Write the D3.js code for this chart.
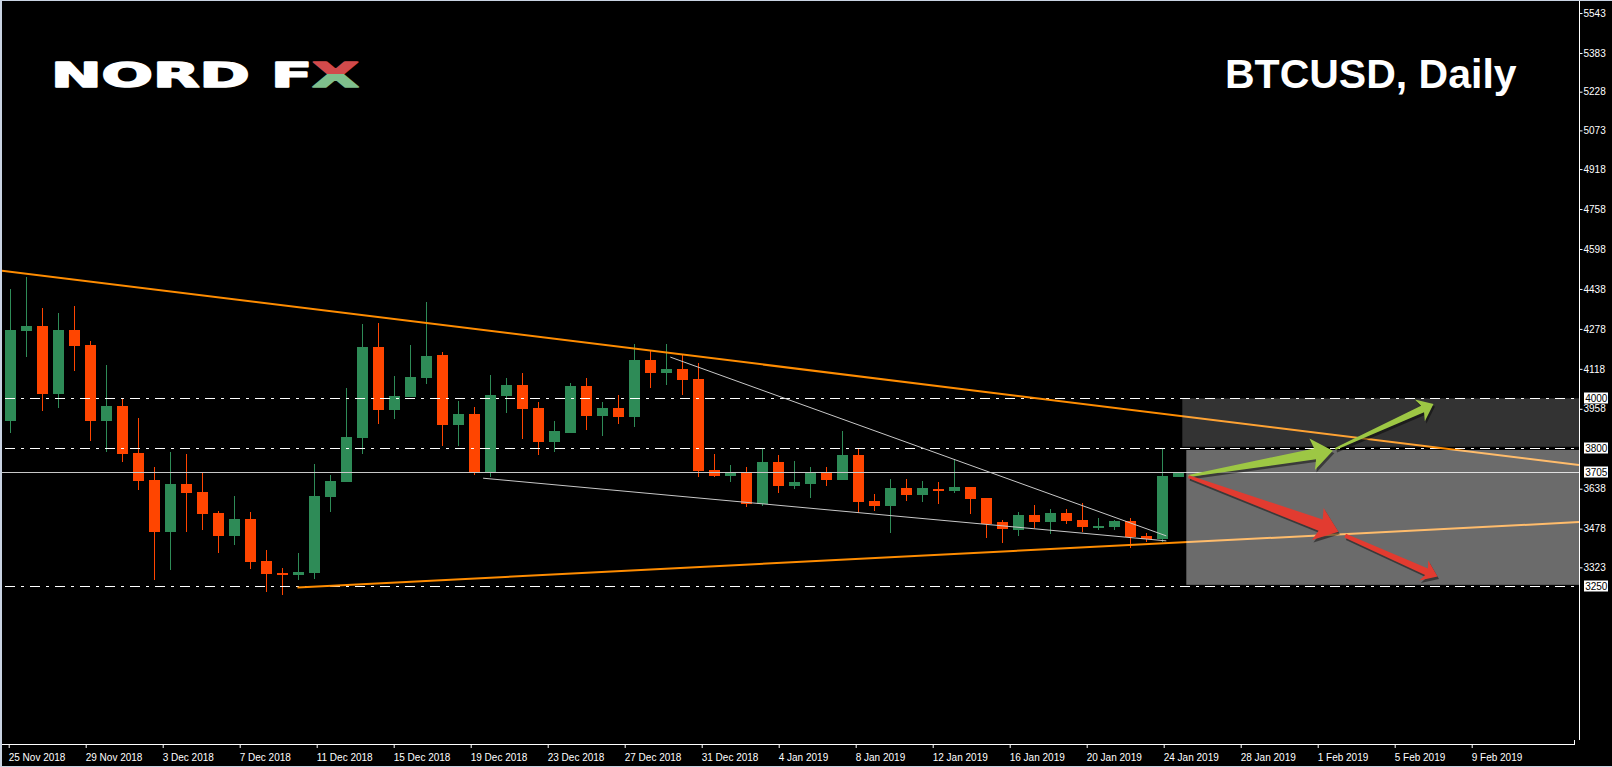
<!DOCTYPE html>
<html><head><meta charset="utf-8">
<script src="https://cdn.jsdelivr.net/npm/d3@7"></script>
<style>html,body{margin:0;padding:0;background:#000;overflow:hidden}</style>
</head><body>
<svg id="c" width="1612" height="767"></svg>
<script>
// ---------- data ----------
const openP  = [3909,4271,4290,4017,4274,4214,3909,3969,3781,3673,3465,3657,3625,3541,3449,3517,3348,3300,3292,3300,3605,3665,3841,4206,3953,4005,4081,4173,3893,3937,3701,4009,4053,3961,3825,3861,4049,3929,3961,3925,4153,4101,4117,4077,3713,3689,3701,3577,3745,3649,3657,3705,3673,3773,3589,3569,3641,3613,3637,3629,3645,3601,3505,3473,3533,3505,3541,3513,3485,3485,3509,3449,3437,3685];
const highP  = [4438,4486,4362,4342,4370,4230,4133,3997,3921,3725,3785,3777,3705,3549,3609,3545,3392,3320,3380,3737,3693,4041,4298,4302,4089,4214,4386,4185,3989,3965,4093,4081,4101,3985,3909,4061,4081,3985,4013,4218,4189,4218,4173,4141,3777,3733,3725,3797,3773,3749,3725,3725,3869,3797,3617,3677,3677,3669,3665,3753,3645,3601,3513,3545,3573,3557,3557,3581,3521,3513,3521,3461,3797,3705];
const lowP   = [3862,4167,3949,3961,4109,3829,3785,3745,3633,3272,3312,3465,3473,3380,3412,3316,3224,3212,3272,3276,3545,3665,3777,3897,3917,4005,4057,3809,3809,3693,3685,3941,3837,3773,3785,3861,3873,3849,3897,3885,4041,4053,4013,3685,3685,3665,3565,3569,3621,3637,3601,3649,3673,3541,3549,3461,3589,3585,3577,3621,3537,3441,3421,3449,3481,3457,3497,3465,3473,3473,3401,3425,3425,3685];
const closeP = [4274,4290,4017,4274,4210,3909,3969,3777,3669,3465,3657,3621,3537,3449,3517,3344,3296,3292,3304,3609,3669,3845,4206,3953,4009,4085,4169,3893,3937,3701,4013,4053,3957,3825,3869,4049,3929,3961,3925,4153,4101,4117,4073,3709,3689,3701,3577,3745,3649,3665,3705,3673,3773,3585,3569,3641,3613,3641,3629,3645,3597,3497,3477,3533,3505,3541,3509,3485,3489,3509,3445,3437,3689,3705];

const dateTicks = ["2018-11-25","2018-11-29","2018-12-03","2018-12-07","2018-12-11","2018-12-15","2018-12-19","2018-12-23","2018-12-27","2018-12-31","2019-01-04","2019-01-08","2019-01-12","2019-01-16","2019-01-20","2019-01-24","2019-01-28","2019-02-01","2019-02-05","2019-02-09"];
const priceTicks = [5543,5383,5228,5073,4918,4758,4598,4438,4278,4118,3958,3638,3478,3323];
const boxedLevels = [4000,3800,3705,3250];
const dashedLevels = [4000,3800,3250];
const solidLevels = [3705];

// trend lines as [barIndex, price] anchors
const upperTrend = [[0,4507],[73,3931]];
const lowerTrend = [[18,3242],[73,3422]];
const greyTrendA = [[41.3,4165],[72.3,3449]];
const greyTrendB = [[29.6,3680],[72.3,3429]];

// forecast zones [startIndex, topPrice, bottomPrice]
const zoneUpper = [73.3, 4000, 3806];
const zoneLower = [73.55, 3793, 3253];

// arrows [tail, tip] as [barIndex, price]
const arrowGreen1 = [[73.69,3689],[82.71,3790]];
const arrowGreen2 = [[82.86,3797],[89.0,3977]];
const arrowRed1   = [[73.69,3686],[83.06,3466]];
const arrowRed2   = [[83.48,3450],[89.25,3286]];

// ---------- scales ----------
const W = 1612, H = 767;
const plotRight = 1579, plotBottom = 744;
const svg = d3.select("#c");
const xi = d3.scaleLinear().domain([0,1]).range([9.5,25.5]);
const parse = d3.utcParse("%Y-%m-%d");
const tDates = dateTicks.map(parse);
const xt = d3.scaleUtc().domain([tDates[0], tDates[tDates.length-1]]).range([8.7, 8.7 + 76*19.25]);
const y = d3.scaleLinear().domain([2615.5, 5595.2]).range([plotBottom, 0]);
const crisp = v => Math.round(v) + 0.5;

svg.append("rect").attr("width",W).attr("height",H).attr("fill","#000");

const defs = svg.append("defs");
defs.append("clipPath").attr("id","plot").append("rect")
  .attr("x",2).attr("y",0).attr("width",plotRight-2).attr("height",plotBottom);
const lg = defs.append("linearGradient").attr("id","xgrad")
  .attr("gradientUnits","userSpaceOnUse").attr("x1",0).attr("x2",0).attr("y1",-25).attr("y2",0);
lg.append("stop").attr("offset","0.5").attr("stop-color","#d24a4b");
lg.append("stop").attr("offset","0.5").attr("stop-color","#7fbf8c");

const plot = svg.append("g").attr("clip-path","url(#plot)");

// ---------- candles ----------
const candles = openP.map((o,i)=>({i,o,h:highP[i],l:lowP[i],c:closeP[i]}));
const col = d => d.c >= d.o ? "#2e8b57" : "#ff4500";
plot.append("g").selectAll("line").data(candles).join("line")
  .attr("x1",d=>Math.round(xi(d.i))+0.5).attr("x2",d=>Math.round(xi(d.i))+0.5)
  .attr("y1",d=>Math.round(y(d.h))).attr("y2",d=>Math.round(y(d.l)))
  .attr("stroke",col).attr("stroke-width",1);
plot.append("g").selectAll("rect").data(candles).join("rect")
  .attr("x",d=>Math.round(xi(d.i))-5).attr("width",11)
  .attr("y",d=>Math.round(y(Math.max(d.o,d.c))))
  .attr("height",d=>Math.max(2,Math.round(y(Math.min(d.o,d.c)))-Math.round(y(Math.max(d.o,d.c)))))
  .attr("fill",col);

// ---------- level lines ----------
plot.append("g").selectAll("line").data(solidLevels).join("line")
  .attr("x1",2).attr("x2",plotRight).attr("y1",d=>crisp(y(d))).attr("y2",d=>crisp(y(d)))
  .attr("stroke","#c8c8c8").attr("stroke-width",1);
plot.append("g").selectAll("line").data(dashedLevels).join("line")
  .attr("x1",5).attr("x2",plotRight).attr("y1",d=>crisp(y(d))).attr("y2",d=>crisp(y(d)))
  .attr("stroke","#fff").attr("stroke-width",1.2).attr("stroke-dasharray","10,6,3,6");

// ---------- trend lines ----------
function trend(a, i0, i1){
  const s = (a[1][1]-a[0][1])/(a[1][0]-a[0][0]);
  const p = i => a[0][1] + s*(i-a[0][0]);
  return [[xi(i0),y(p(i0))],[xi(i1),y(p(i1))]];
}
const iRight = xi.invert(plotRight), iLeft = xi.invert(0);
const lineGen = d3.line();
plot.append("path").attr("d",lineGen(trend(upperTrend,iLeft,iRight)))
  .attr("stroke","#ff8c00").attr("stroke-width",2).attr("fill","none");
plot.append("path").attr("d",lineGen(trend(lowerTrend,lowerTrend[0][0],iRight)))
  .attr("stroke","#ff8c00").attr("stroke-width",2).attr("fill","none");
[greyTrendA, greyTrendB].forEach(a=>{
  plot.append("path").attr("d",lineGen(a.map(p=>[xi(p[0]),y(p[1])])))
    .attr("stroke","#c8c8c8").attr("stroke-width",1).attr("fill","none");
});

// ---------- zones (translucent light overlay) ----------
plot.append("rect").attr("x",xi(zoneUpper[0])).attr("width",plotRight-xi(zoneUpper[0]))
  .attr("y",y(zoneUpper[1])).attr("height",y(zoneUpper[2])-y(zoneUpper[1]))
  .attr("fill","#fff").attr("fill-opacity",0.2);
plot.append("rect").attr("x",xi(zoneLower[0])).attr("width",plotRight-xi(zoneLower[0]))
  .attr("y",y(zoneLower[1])).attr("height",y(zoneLower[2])-y(zoneLower[1]))
  .attr("fill","#fff").attr("fill-opacity",0.42);

// ---------- arrows ----------
function arrowPoly(a, hl, hw, sw, tw){
  const T=[xi(a[0][0]),y(a[0][1])], P=[xi(a[1][0]),y(a[1][1])];
  const dx=P[0]-T[0], dy=P[1]-T[1], L=Math.hypot(dx,dy);
  const u=[dx/L,dy/L], n=[-u[1],u[0]];
  const B=[P[0]-u[0]*hl, P[1]-u[1]*hl];
  const bb=[B[0]+u[0]*3, B[1]+u[1]*3];
  const pt=(o,k)=>[o[0]+n[0]*k, o[1]+n[1]*k];
  return [pt(T,tw/2), pt(bb,sw/2), pt(B,hw/2), P, pt(B,-hw/2), pt(bb,-sw/2), pt(T,-tw/2)];
}
const arrowDefs = [
  {a:arrowGreen1, c:"#9dc744", hl:21, hw:32, sw:11, tw:2},
  {a:arrowGreen2, c:"#9dc744", hl:15, hw:24, sw:7, tw:2},
  {a:arrowRed1, c:"#e23b30", hl:22, hw:34, sw:12, tw:3},
  {a:arrowRed2, c:"#e23b30", hl:15, hw:22, sw:7, tw:4}
];
const ag = plot.append("g");
arrowDefs.forEach(d=>{
  const pts = arrowPoly(d.a,d.hl,d.hw,d.sw,d.tw);
  ag.append("polygon").attr("points",pts.map(p=>(p[0]+1.5)+","+(p[1]+2.5)).join(" "))
    .attr("fill","#000").attr("fill-opacity",0.45);
});
arrowDefs.forEach(d=>{
  const pts = arrowPoly(d.a,d.hl,d.hw,d.sw,d.tw);
  ag.append("polygon").attr("points",pts.map(p=>p.join(",")).join(" ")).attr("fill",d.c);
});

// ---------- axes ----------
const xAxis = svg.append("g").attr("transform",`translate(0,${plotBottom})`)
  .call(d3.axisBottom(xt).tickValues(tDates).tickFormat(d3.utcFormat("%-d %b %Y")).tickSize(4));
xAxis.select(".domain").remove();
xAxis.selectAll(".tick line").attr("stroke","#fff");
xAxis.selectAll(".tick text").attr("fill","#fff").attr("text-anchor","start")
  .attr("x",-0.5).attr("y",10).attr("dy","0.71em")
  .style("font-family","'Liberation Sans', Arial, sans-serif").style("font-size","10px");
svg.append("line").attr("x1",2).attr("x2",1574).attr("y1",plotBottom+0.5).attr("y2",plotBottom+0.5).attr("stroke","#fff");
svg.append("line").attr("x1",1574.5).attr("x2",1574.5).attr("y1",740).attr("y2",plotBottom+1).attr("stroke","#fff");

const yAxis = svg.append("g").attr("transform",`translate(${plotRight+0.5},0)`)
  .call(d3.axisRight(y).tickValues(priceTicks).tickFormat(d3.format("d")).tickSize(3));
yAxis.select(".domain").remove();
yAxis.selectAll(".tick line").attr("stroke","#fff");
yAxis.selectAll(".tick text").attr("fill","#fff").attr("x",4)
  .style("font-family","'Liberation Sans', Arial, sans-serif").style("font-size","10px");
svg.append("line").attr("x1",plotRight+0.5).attr("x2",plotRight+0.5).attr("y1",0).attr("y2",740).attr("stroke","#fff");

const box = svg.append("g").selectAll("g").data(boxedLevels).join("g")
  .attr("transform",d=>`translate(1584,${Math.round(y(d))})`);
box.append("rect").attr("x",0).attr("y",-5.5).attr("width",24).attr("height",11).attr("fill","#fff");
box.append("text").attr("x",1.2).attr("y",0).attr("dy","0.35em").text(d=>d)
  .attr("fill","#000").style("font-family","'Liberation Sans', Arial, sans-serif").style("font-size","10px");

// ---------- title & logo ----------
svg.append("text").attr("x",1225).attr("y",88.3).text("BTCUSD, Daily")
  .attr("fill","#fff").style("font-family","'Liberation Sans', Arial, sans-serif")
  .style("font-weight","bold").style("font-size","41px");
const logoG = svg.append("g");
const logo = logoG.append("text").attr("x",0).attr("y",0)
  .attr("fill","#fff").attr("stroke","#fff").attr("stroke-width",1.6).attr("stroke-linejoin","round")
  .style("font-family","'DejaVu Sans', sans-serif")
  .style("font-weight","bold").style("font-size","33px");
logo.append("tspan").text("NORD F");
logo.append("tspan").attr("fill","url(#xgrad)").attr("stroke","url(#xgrad)").text("X");
const bb = logo.node().getBBox();
const sx = 308 / bb.width;
logoG.attr("transform",`translate(${51 - bb.x*sx},86.5) scale(${sx},1)`);

// ---------- window border ----------
svg.append("rect").attr("x",0).attr("y",0).attr("width",2).attr("height",H).attr("fill","#c9d3e2");
svg.append("rect").attr("x",0).attr("y",0).attr("width",W).attr("height",1).attr("fill","#c9d3e2");
svg.append("rect").attr("x",0).attr("y",H-1).attr("width",W).attr("height",1).attr("fill","#c9d3e2");
</script>
</body></html>
